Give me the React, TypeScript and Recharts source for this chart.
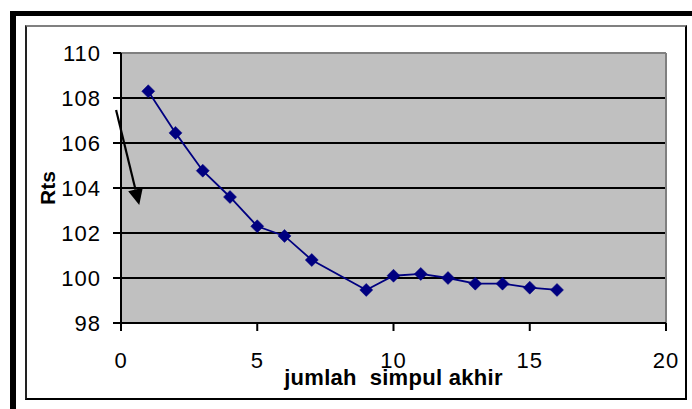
import React from 'react';
import { LineChart, Line, XAxis, YAxis, CartesianGrid, ReferenceLine } from 'recharts';

const xValues = [1, 2, 3, 4, 5, 6, 7, 9, 10, 11, 12, 13, 14, 15, 16];
const rtsValues = [108.3, 106.45, 104.77, 103.6, 102.3, 101.87, 100.8, 99.47, 100.1, 100.18, 100.0, 99.75, 99.75, 99.57, 99.47];
const xTicks = [0, 5, 10, 15, 20];
const yTicks = [98, 100, 102, 104, 106, 108, 110];
const arrowX = [-0.18, 0.67];
const arrowY = [107.47, 103.24];

const data = xValues.map((x, i) => ({ x, rts: rtsValues[i] }));

const FONT = '"Liberation Sans", Arial, sans-serif';
const W = 692;
const H = 409;
const PLOT_LEFT = 121;
const PLOT_TOP = 53;
const PLOT_RIGHT = 666;
const PLOT_BOTTOM = 323;
const YAXIS_W = 60;
const XAXIS_H = 30;

const Diamond = (props: any) => {
  const { cx, cy } = props;
  if (cx == null || cy == null) return null;
  const r = 6.5;
  return (
    <polygon
      points={`${cx},${cy - r} ${cx + r},${cy} ${cx},${cy + r} ${cx - r},${cy}`}
      fill="#000080"
      stroke="#000080"
      strokeWidth={0.5}
    />
  );
};

const Arrow = (props: any) => {
  const { x1, y1, x2, y2 } = props;
  if ([x1, y1, x2, y2].some((v) => v == null || isNaN(v))) return null;
  const dx = x2 - x1;
  const dy = y2 - y1;
  const len = Math.sqrt(dx * dx + dy * dy);
  const ux = dx / len;
  const uy = dy / len;
  const hl = 16;
  const hw = 7.5;
  const bx = x2 - ux * hl;
  const by = y2 - uy * hl;
  const px = -uy;
  const py = ux;
  return (
    <g>
      <line x1={x1} y1={y1} x2={bx} y2={by} stroke="#000" strokeWidth={2.2} />
      <polygon
        points={`${x2},${y2} ${bx + px * hw},${by + py * hw} ${bx - px * hw},${by - py * hw}`}
        fill="#000"
      />
    </g>
  );
};

const YTitle = () => (
  <text
    x={47}
    y={188}
    transform="rotate(-90 47 188)"
    textAnchor="middle"
    dominantBaseline="central"
    fontFamily={FONT}
    fontWeight="bold"
    fontSize={21}
    fill="#000"
  >
    Rts
  </text>
);

const XTitle = () => (
  <text
    x={(PLOT_LEFT + PLOT_RIGHT) / 2}
    y={385}
    textAnchor="middle"
    fontFamily={FONT}
    fontWeight="bold"
    fontSize={22}
    letterSpacing={0.3}
    fill="#000"
    style={{ whiteSpace: 'pre' }}
  >
    {'jumlah  simpul akhir'}
  </text>
);

const tickStyle = { fill: '#000', fontSize: 22, fontFamily: FONT, letterSpacing: 1 };

export default function App() {
  return (
    <div style={{ position: 'absolute', left: 0, top: 0, width: W, height: H, background: '#fff', overflow: 'hidden' }}>
      <div
        style={{
          position: 'absolute',
          left: 10,
          top: 11,
          width: 720,
          height: 430,
          borderTop: '5px solid #000',
          borderLeft: '6px solid #000',
        }}
      />
      <div
        style={{
          position: 'absolute',
          left: 25,
          top: 25,
          width: 658,
          height: 371,
          borderTop: '2px solid #808080',
          borderLeft: '2px solid #222',
          borderRight: '2px solid #000',
          borderBottom: '2px solid #000',
        }}
      />
      <div style={{ position: 'absolute', left: 0, top: 0 }}>
        <LineChart
          width={W}
          height={H}
          data={data}
          margin={{
            top: PLOT_TOP,
            right: W - PLOT_RIGHT,
            left: PLOT_LEFT - YAXIS_W,
            bottom: H - PLOT_BOTTOM - XAXIS_H,
          }}
        >
          <CartesianGrid vertical={false} fill="#C0C0C0" stroke="#000" strokeWidth={2} strokeOpacity={1} />
          <XAxis
            dataKey="x"
            type="number"
            domain={[0, 20]}
            ticks={xTicks}
            height={XAXIS_H}
            tickSize={8}
            tickMargin={21}
            axisLine={{ stroke: '#000', strokeWidth: 2 }}
            tickLine={{ stroke: '#000', strokeWidth: 2 }}
            tick={tickStyle}
            allowDataOverflow
            label={<XTitle />}
          />
          <YAxis
            type="number"
            domain={[98, 110]}
            ticks={yTicks}
            width={YAXIS_W}
            tickSize={8}
            tickMargin={12}
            axisLine={{ stroke: '#000', strokeWidth: 2 }}
            tickLine={{ stroke: '#000', strokeWidth: 2 }}
            tick={tickStyle}
            allowDataOverflow
            label={<YTitle />}
          />
          <ReferenceLine y={110} stroke="#808080" strokeWidth={2} />
          <ReferenceLine x={20} stroke="#808080" strokeWidth={2} />
          <ReferenceLine
            segment={[
              { x: arrowX[0], y: arrowY[0] },
              { x: arrowX[1], y: arrowY[1] },
            ]}
            ifOverflow="visible"
            shape={<Arrow />}
          />
          <Line
            type="linear"
            dataKey="rts"
            stroke="#000080"
            strokeWidth={1.8}
            dot={<Diamond />}
            activeDot={false}
            isAnimationActive={false}
          />
        </LineChart>
      </div>
    </div>
  );
}
